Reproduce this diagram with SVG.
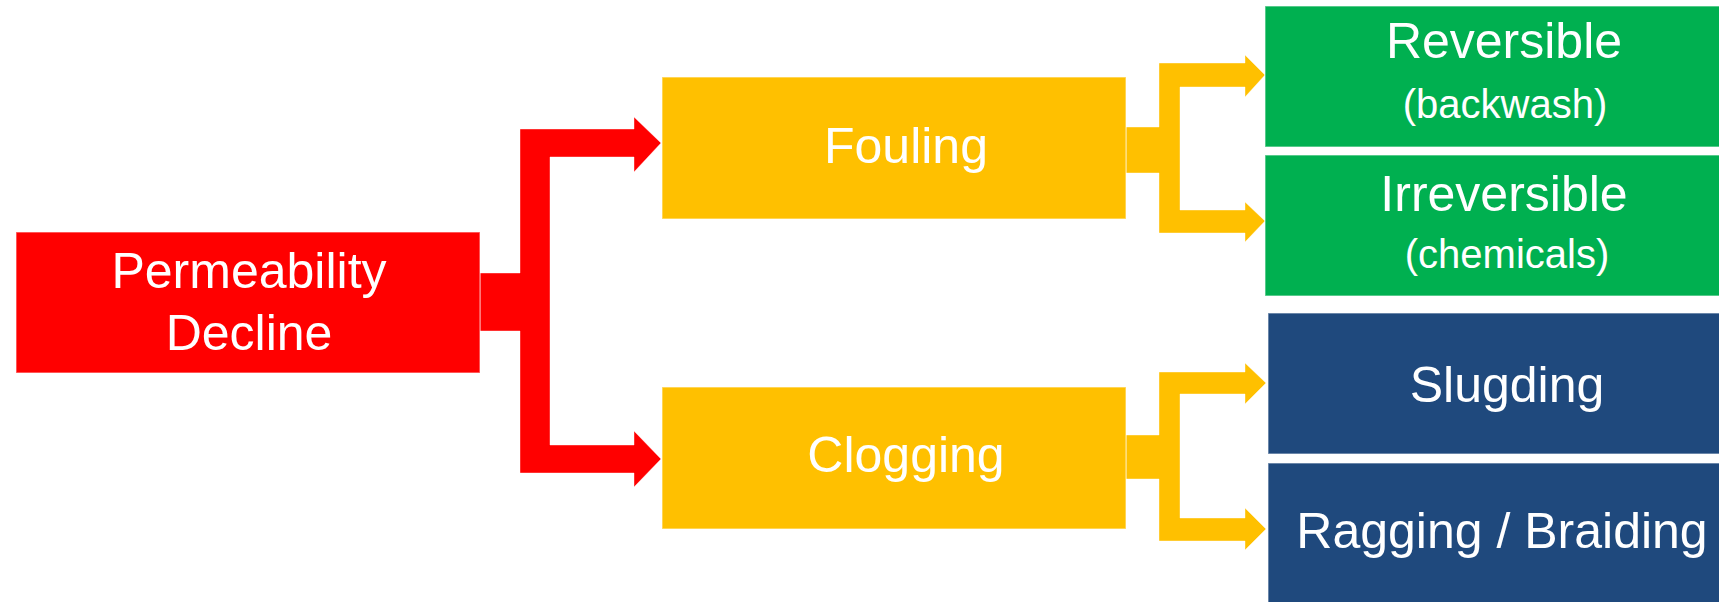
<svg xmlns="http://www.w3.org/2000/svg" width="1719" height="602" viewBox="0 0 1719 602">
<style>
.box{stroke:#ffffff;stroke-opacity:0.45;stroke-width:1.5}
.red{fill:#FF0000}
.yel{fill:#FFC000}
.grn{fill:#00B050}
.blu{fill:#1F497D}
.t{font-family:"Liberation Sans",Arial,sans-serif;fill:#ffffff;text-anchor:middle}
.big{font-size:50px}
.small{font-size:40px}
.conn{stroke:#ffffff;stroke-opacity:0.4;stroke-width:1}
</style>
<rect width="1719" height="602" fill="#ffffff"/>
<g id="connectors">
<polygon class="red conn" points="480,273 520,273 520,129 634,129 634,117 661,143 634,172 634,157 550,157 550,445 634,445 634,431 661,459 634,487 634,473 520,473 520,331 480,331"/>
<polygon class="yel conn" points="1126,127 1159,127 1159,63 1245,63 1245,55 1265,75 1245,97 1245,87 1180,87 1180,210 1245,210 1245,202 1265,221 1245,242 1245,233 1159,233 1159,173 1126,173"/>
<polygon class="yel conn" points="1126,435 1159,435 1159,372 1245,372 1245,363 1266,383 1245,404 1245,394 1180,394 1180,518 1245,518 1245,508 1266,529 1245,550 1245,541 1159,541 1159,479 1126,479"/>
</g>
<g id="permeability">
<rect class="box red" x="16" y="232" width="464" height="141"/>
<text class="t big" x="249" y="288">Permeability</text>
<text class="t big" x="249" y="350">Decline</text>
</g>
<g id="fouling">
<rect class="box yel" x="662" y="77" width="464" height="142"/>
<text class="t big" x="906" y="163">Fouling</text>
</g>
<g id="clogging">
<rect class="box yel" x="662" y="387" width="464" height="142"/>
<text class="t big" x="906" y="472">Clogging</text>
</g>
<g id="reversible">
<rect class="box grn" x="1265" y="6" width="480" height="141"/>
<text class="t big" x="1504" y="58">Reversible</text>
<text class="t small" x="1505" y="118">(backwash)</text>
</g>
<g id="irreversible">
<rect class="box grn" x="1265" y="155" width="480" height="141"/>
<text class="t big" x="1504" y="211">Irreversible</text>
<text class="t small" x="1507" y="268">(chemicals)</text>
</g>
<g id="slugding">
<rect class="box blu" x="1268" y="313" width="480" height="141"/>
<text class="t big" x="1507" y="402">Slugding</text>
</g>
<g id="ragging">
<rect class="box blu" x="1268" y="463" width="480" height="150"/>
<text class="t big" x="1502" y="548">Ragging / Braiding</text>
</g>
</svg>
